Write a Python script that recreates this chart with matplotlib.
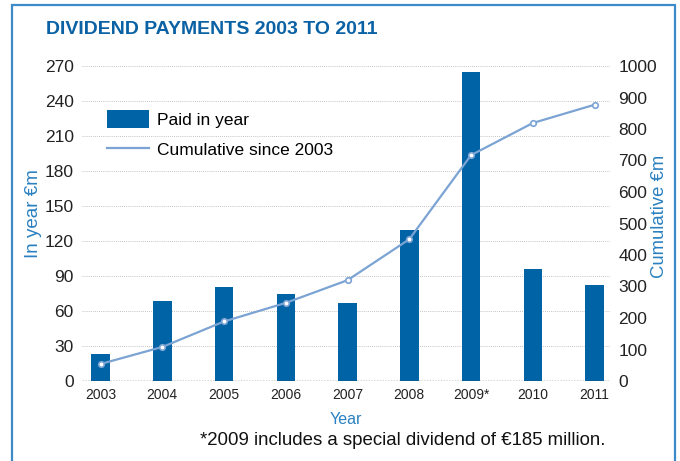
import matplotlib.pyplot as plt
from matplotlib.lines import Line2D
from matplotlib.patches import Rectangle, Patch

plt.rcParams['font.family'] = ['Liberation Sans', 'DejaVu Sans']

years = ["2003", "2004", "2005", "2006", "2007", "2008", "2009*", "2010", "2011"]
paid_in_year = [23, 69, 81, 74.5, 67, 129, 265, 96, 82]
cumulative = [54, 108, 189, 248, 320, 450, 717, 819, 877]

bar_col = "#0063a6"
line_col = "#7ba3d3"
blue_txt = "#2a80c0"

fig = plt.figure(figsize=(6.8, 4.61), dpi=100)
W, H = 680, 461

# outer frame
fig.patches.append(Rectangle((12 / W, -0.05), 663 / W, (H - 5) / H + 0.05,
                             transform=fig.transFigure, fill=False,
                             edgecolor="#3c8ac8", linewidth=1.6))

ax = fig.add_axes([82 / W, (H - 381) / H, 528 / W, 315 / H])
ax2 = ax.twinx()

x = list(range(len(years)))
ax.bar(x, paid_in_year, width=0.3, color=bar_col, zorder=2)
ax.set_ylim(0, 270)
ax.set_xlim(-0.3, 8.25)
ax.set_yticks(range(0, 271, 30))
ax.yaxis.grid(True, linestyle=(0, (1, 1.5)), color="#b0b0b0", linewidth=0.6, zorder=0)
ax.set_axisbelow(True)
ax.axhline(0, color="#333333", linestyle=(0, (1, 1)), linewidth=1, zorder=3)
ax.set_xticks(x)
ax.set_xticklabels(years, fontsize=10, color="#222222")
ax.tick_params(axis="y", labelsize=12.5, colors="#222222", length=0, pad=6)
ax.tick_params(axis="x", length=0, pad=5)
ax.set_ylabel("In year €m", color=blue_txt, fontsize=13.5)
ax.yaxis.set_label_coords(-0.076, 0.53)

ax2.plot(x, cumulative, color=line_col, linewidth=1.6, marker="o",
         markersize=4, markerfacecolor="white", markeredgecolor=line_col,
         markeredgewidth=1.2, zorder=4)
ax2.set_ylim(0, 1000)
ax2.set_yticks(range(0, 1001, 100))
ax2.tick_params(axis="y", labelsize=12.5, colors="#222222", length=0, pad=6)
ax2.set_ylabel("Cumulative €m", color=blue_txt, fontsize=13.3)
ax2.yaxis.set_label_coords(1.078, 0.524)

for a in (ax, ax2):
    for s in a.spines.values():
        s.set_visible(False)

ax.set_xlabel("Year", color=blue_txt, fontsize=11.5, labelpad=7)

handles = [Patch(facecolor=bar_col, edgecolor="none"),
           Line2D([], [], color=line_col, linewidth=1.6)]
fig.legend(handles, ["Paid in year", "Cumulative since 2003"],
           loc="upper left", bbox_to_anchor=(93 / W, 1 - 96 / H),
           frameon=False, fontsize=12.5, handlelength=2.4, handleheight=1.2,
           handletextpad=0.5, labelspacing=0.75, borderpad=0.3)

fig.text(46 / W, 1 - 29 / H, "DIVIDEND PAYMENTS 2003 TO 2011", color="#0a62a5",
         fontsize=14, fontweight="bold", va="center", ha="left")
fig.text(200 / W, 1 - 440 / H, "*2009 includes a special dividend of €185 million.",
         color="#111111", fontsize=13.4, va="center", ha="left")

fig.savefig("out.png", dpi=100)
